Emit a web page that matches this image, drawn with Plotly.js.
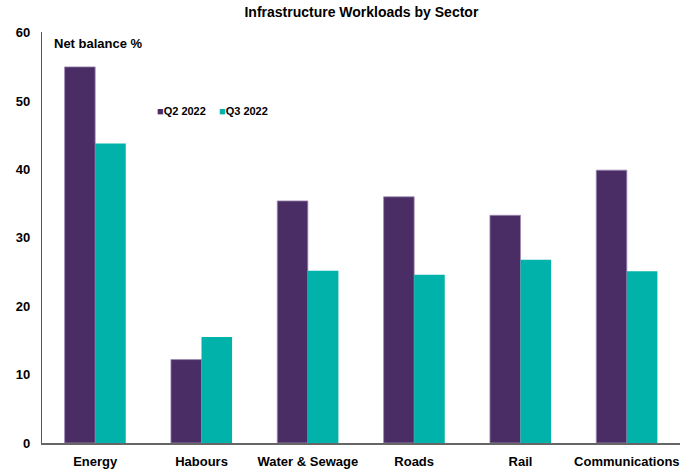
<!DOCTYPE html>
<html>
<head>
<meta charset="utf-8">
<script src="https://cdn.plot.ly/plotly-3.0.1.min.js"></script>
<style>html,body{margin:0;padding:0;background:#fff;}#chart{width:695px;height:475px;}</style>
</head>
<body>
<div id="chart"></div>
<script>
const categories = ["Energy", "Habours", "Water & Sewage", "Roads", "Rail", "Communications"];
const seriesNames = ["Q2 2022", "Q3 2022"];
const q2Values = [55.0, 12.2, 35.4, 36.0, 33.3, 39.9];
const q3Values = [43.8, 15.5, 25.2, 24.6, 26.8, 25.1];
const yTicks = [0, 10, 20, 30, 40, 50, 60];
const seriesColors = ['#4B2D66', '#00B2AA'];

const FONT = '"Liberation Sans Narrow", "Arial Narrow", "Liberation Sans", Arial, sans-serif';

const traces = [
  {type: 'bar', name: seriesNames[0], x: categories, y: q2Values,
   marker: {color: seriesColors[0], line: {color: '#9E8BB3', width: 0.8}}, hoverinfo: 'none'},
  {type: 'bar', name: seriesNames[1], x: categories, y: q3Values,
   marker: {color: seriesColors[1], line: {width: 0}}, hoverinfo: 'none'}
];

const legendAnn = seriesNames.map((n, i) => ({
  text: '<span style="color:' + seriesColors[i] + '">■</span><b>' + n + '</b>',
  xref: 'paper', yref: 'paper', x: (155 - 42) / 638 + i * (62 / 638), y: (443 - 111) / 411,
  xanchor: 'left', yanchor: 'middle', showarrow: false,
  font: {family: FONT, size: 11, color: '#000'}
}));

const layout = {
  width: 695, height: 475,
  margin: {l: 42, r: 15, t: 32, b: 32},
  paper_bgcolor: '#fff', plot_bgcolor: '#fff',
  font: {family: FONT, color: '#000', size: 13},
  title: {text: '<b>Infrastructure Workloads by Sector</b>', x: 0.52, xanchor: 'center', y: 0.985, yanchor: 'top',
          font: {family: FONT, size: 14, color: '#000'}},
  barmode: 'group',
  bargap: 0.425,
  bargroupgap: 0,
  showlegend: false,
  xaxis: {showgrid: false, zeroline: false, showline: true, linecolor: '#666', linewidth: 1.5,
          ticks: '', ticklabelstandoff: 6,
          tickfont: {family: FONT, size: 13, color: '#000', weight: 'bold'}, fixedrange: true},
  yaxis: {range: [0, 60.1], tickvals: yTicks, ticktext: yTicks.map(String), showgrid: false, zeroline: false,
          showline: true, linecolor: '#555', linewidth: 1.2, ticks: '',
          tickfont: {family: FONT, size: 13, color: '#000', weight: 'bold'}, ticklabelstandoff: 8, fixedrange: true},
  annotations: [{text: '<b>Net balance %</b>', xref: 'paper', yref: 'paper', x: 0.015, y: (443 - 44) / 411,
                 xanchor: 'left', yanchor: 'middle', showarrow: false,
                 font: {family: FONT, size: 13, color: '#000'}}].concat(legendAnn)
};

Plotly.newPlot('chart', traces, layout, {displayModeBar: false, staticPlot: true});
</script>
</body>
</html>
